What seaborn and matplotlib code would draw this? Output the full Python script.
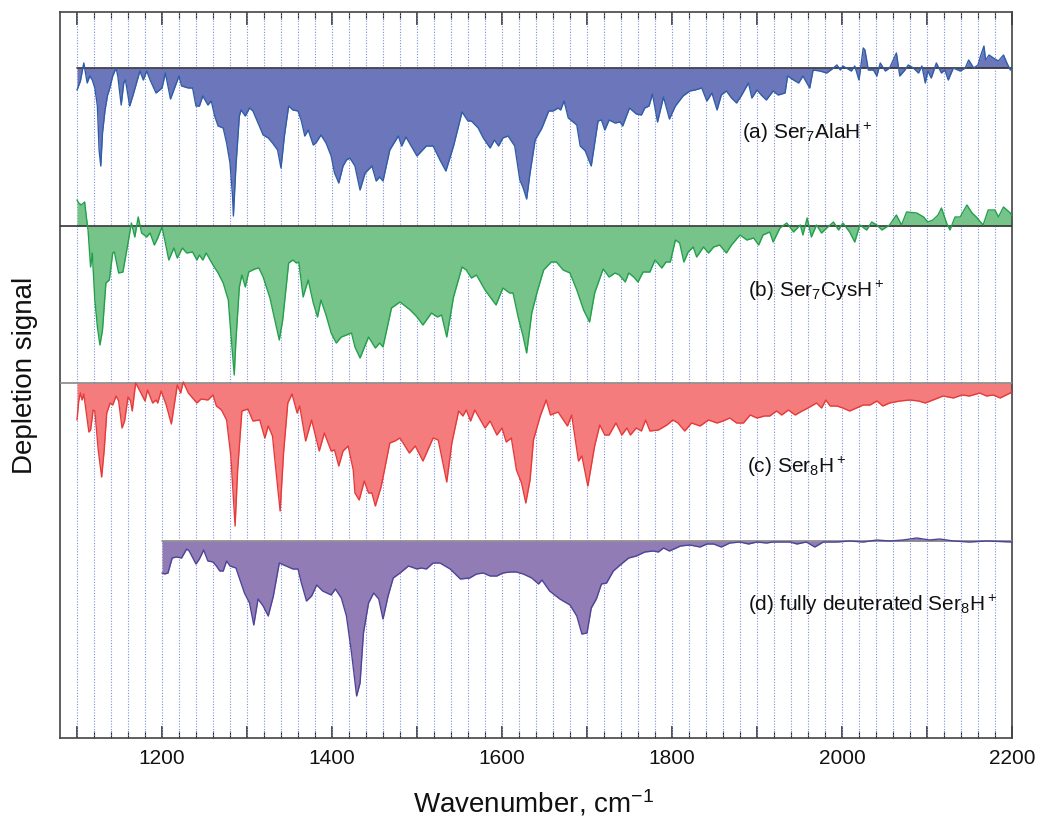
import numpy as np
import pandas as pd
import matplotlib
matplotlib.use("Agg")
import matplotlib.pyplot as plt
import seaborn as sns

# ---------------- data (depletion depth, arbitrary units; positive = downwards) ----------------
wn_a = [1100,1104,1108,1112,1115,1118,1121,1124,1126,1128,1130,1133,1136,1138,1142,1146,1148,1152,1155,1157,
        1162,1166,1170,1174,1178,1182,1186,1193,1200,1204,1210,1220,1223,1231,1236,1240,1244,1248,1254,1258,
        1262,1266,1272,1276,1280,1283,1284,1287,1291,1293,1298,1303,1307,1313,1319,1325,1330,1336,1340,1344,
        1349,1354,1360,1364,1368,1372,1378,1381,1387,1393,1399,1403,1408,1413,1417,1421,1427,1433,1439,1447,
        1452,1456,1460,1468,1478,1482,1487,1500,1511,1519,1527,1534,1543,1553,1560,1564,1572,1578,1586,1591,
        1596,1601,1607,1615,1621,1625,1629,1633,1639,1647,1655,1660,1666,1669,1673,1678,1688,1692,1698,1705,
        1713,1717,1721,1726,1733,1739,1742,1750,1758,1764,1768,1773,1777,1783,1790,1797,1804,1813,1821,1827,
        1835,1841,1847,1853,1858,1864,1870,1876,1882,1890,1894,1900,1905,1911,1919,1925,1933,1936,1943,1949,
        1954,1962,1966,1974,1982,1990,1994,1998,2001,2005,2011,2015,2020,2025,2027,2031,2037,2041,2045,2051,
        2056,2064,2068,2074,2078,2084,2090,2094,2098,2101,2105,2111,2117,2121,2125,2131,2139,2145,2149,2155,
        2160,2163,2167,2169,2173,2178,2184,2190,2194,2198,2200]
dep_a = [22,13,-5,15,8,12,20,38,82,98,65,42,27,22,8,0,8,37,15,12,
         38,27,15,3,12,3,12,25,20,5,31,8,18,20,20,38,38,28,37,33,
         48,58,60,75,95,128,148,98,48,42,48,40,43,55,67,70,75,82,100,68,
         38,42,43,53,68,62,77,75,67,75,88,105,115,98,92,90,98,122,105,98,
         113,109,113,82,68,78,69,88,78,78,92,103,78,44,53,53,60,70,80,72,
         78,70,68,78,112,120,131,105,72,60,43,43,40,42,33,50,57,78,83,98,
         53,52,62,52,55,54,58,40,46,47,40,38,26,54,29,51,38,28,23,22,
         20,33,25,42,27,23,30,35,27,15,30,22,27,32,23,27,25,8,12,15,
         8,20,2,3,5,0,-3,2,-2,0,3,-2,12,-20,-18,2,2,8,-5,3,
         0,-15,8,2,-3,0,5,-2,15,3,10,-5,5,2,12,0,3,0,-8,0,
         -3,-12,-22,-8,-13,-10,-7,-13,-5,2,0]

wn_b = [1100,1102,1105,1109,1111,1113,1116,1118,1121,1124,1127,1130,1134,1138,1142,1144,1149,1154,1160,1164,
        1168,1172,1176,1182,1186,1191,1195,1200,1204,1208,1214,1218,1224,1229,1236,1241,1244,1248,1252,1260,
        1266,1272,1278,1281,1285,1287,1291,1294,1298,1302,1309,1314,1319,1327,1332,1338,1342,1349,1354,1358,
        1361,1366,1372,1378,1383,1387,1393,1399,1405,1411,1417,1423,1427,1433,1443,1451,1456,1460,1470,1480,
        1492,1500,1507,1517,1524,1529,1535,1543,1553,1558,1564,1570,1580,1593,1601,1609,1613,1619,1625,1629,
        1635,1641,1649,1658,1664,1672,1680,1688,1696,1703,1709,1719,1726,1733,1738,1745,1749,1755,1760,1766,
        1774,1780,1788,1793,1798,1804,1809,1814,1819,1825,1829,1837,1843,1849,1856,1864,1870,1880,1888,1896,
        1902,1907,1915,1919,1927,1935,1943,1951,1954,1959,1964,1970,1976,1982,1990,1996,2001,2009,2015,2021,
        2029,2035,2041,2047,2056,2064,2070,2076,2088,2096,2101,2107,2113,2117,2123,2127,2133,2139,2147,2153,
        2158,2166,2172,2180,2184,2190,2198,2200]
dep_b = [-26,-23,-21,-24,-9,4,41,27,74,101,119,104,57,54,27,26,47,46,17,-3,
         11,-9,7,11,7,19,12,1,17,34,22,32,22,27,26,34,29,34,27,39,
         47,57,74,107,149,114,61,49,61,46,43,42,51,72,91,114,94,37,34,37,
         36,71,54,77,91,74,89,107,117,111,109,107,121,132,111,122,117,121,82,76,
         84,91,99,87,91,89,111,71,41,44,52,49,64,79,62,67,67,91,111,127,
         87,67,44,36,36,44,47,64,84,96,67,43,51,47,49,56,47,51,56,46,
         46,34,42,36,36,14,17,36,26,21,31,21,27,21,19,27,19,9,14,12,
         19,9,6,16,2,-3,6,-1,9,-8,11,-1,7,2,-4,4,-3,6,16,-1,
         4,-4,-1,4,-1,-11,-1,-14,-13,-9,-4,-6,-11,-18,-3,4,-9,-9,-21,-13,
         -9,-1,-16,-16,-9,-19,-13,-10]

wn_c = [1100,1102,1104,1106,1108,1111,1114,1116,1119,1121,1125,1129,1132,1135,1139,1142,1146,1149,1153,1156,
        1160,1163,1165,1169,1174,1180,1183,1189,1193,1195,1199,1205,1211,1218,1222,1225,1231,1236,1241,1246,
        1254,1260,1264,1270,1276,1281,1286,1289,1294,1301,1307,1315,1321,1325,1330,1334,1339,1343,1348,1353,
        1359,1362,1369,1376,1385,1391,1399,1403,1408,1413,1419,1425,1427,1432,1438,1443,1447,1451,1458,1468,
        1474,1480,1491,1498,1507,1519,1525,1535,1541,1549,1554,1558,1563,1568,1580,1586,1594,1600,1605,1611,
        1617,1623,1628,1633,1637,1645,1652,1657,1666,1677,1682,1690,1694,1701,1709,1715,1721,1726,1734,1741,
        1747,1751,1758,1764,1769,1774,1784,1794,1801,1807,1815,1823,1833,1843,1853,1860,1868,1876,1884,1892,
        1900,1909,1915,1923,1929,1937,1945,1953,1960,1970,1976,1981,1986,1994,2001,2009,2017,2025,2033,2041,
        2048,2056,2068,2080,2090,2098,2107,2119,2131,2141,2150,2162,2170,2178,2186,2198,2200]
dep_c = [37,18,10,17,11,30,49,47,27,28,67,94,67,30,20,22,13,18,45,38,
         14,18,28,0,8,18,7,20,17,20,8,22,41,2,10,-1,10,15,20,16,
         17,12,23,27,37,73,143,87,28,26,38,37,55,43,53,87,128,70,20,11,
         30,23,58,37,68,50,68,67,83,68,63,87,110,117,98,110,110,123,103,60,
         58,55,70,63,78,55,57,99,60,28,33,27,38,27,45,38,52,45,59,55,
         87,100,120,97,57,33,17,32,29,43,32,78,73,103,63,42,52,52,40,52,
         45,52,45,48,37,48,47,42,37,40,48,40,43,37,40,38,35,40,40,32,
         35,33,33,28,32,27,32,28,25,20,25,17,23,23,25,28,25,22,22,18,
         23,20,18,17,18,20,17,13,15,12,13,10,13,12,15,10,8]

wn_d = [1200,1203,1207,1212,1217,1223,1229,1232,1240,1244,1249,1254,1260,1264,1268,1272,1276,1280,1287,1293,
        1297,1303,1308,1313,1319,1325,1331,1338,1346,1354,1360,1364,1370,1376,1382,1389,1399,1404,1411,1417,
        1423,1429,1433,1437,1443,1449,1455,1460,1466,1472,1480,1490,1500,1505,1511,1519,1527,1539,1551,1562,
        1570,1578,1586,1594,1601,1609,1617,1625,1635,1643,1647,1656,1668,1680,1688,1694,1700,1705,1711,1717,
        1723,1731,1739,1749,1758,1768,1778,1784,1790,1797,1810,1821,1833,1841,1849,1858,1868,1880,1890,1900,
        1911,1919,1929,1939,1947,1958,1968,1978,1994,2009,2025,2041,2056,2072,2088,2103,2115,2131,2150,2170,
        2200]
dep_d = [32,33,32,17,16,17,8,10,23,18,9,20,21,25,30,30,20,25,27,42,
         52,62,84,58,65,75,55,22,25,28,28,42,60,55,44,50,54,48,57,75,
         112,155,142,92,62,52,58,78,55,37,32,25,28,27,28,22,22,28,38,37,
         33,32,35,35,32,31,31,33,37,43,39,50,58,64,75,93,92,67,58,43,
         42,30,24,17,15,11,10,11,7,10,5,4,6,3,3,6,2,1,3,1,
         2,1,1,1,3,1,6,1,1,0,1,-1,0,-1,-3,-1,-2,0,1,0,
         1]

labels = [r"(a) Ser$_7$AlaH$^+$", r"(b) Ser$_7$CysH$^+$", r"(c) Ser$_8$H$^+$",
          r"(d) fully deuterated Ser$_8$H$^+$"]
xlabel_text = r"Wavenumber, cm$^{-1}$"
ylabel_text = "Depletion signal"
tick_values = [1200, 1400, 1600, 1800, 2000, 2200]

# ---------------- styling ----------------
sns.set_style("white")
plt.rcParams["font.family"] = ["Liberation Sans", "DejaVu Sans"]
plt.rcParams["mathtext.default"] = "regular"
plt.rcParams["mathtext.fontset"] = "custom"
plt.rcParams["mathtext.rm"] = "Liberation Sans"
plt.rcParams["text.color"] = "#111111"

offsets = [0, -158, -315, -473]
fills = ["#6b76bb", "#76c48a", "#f47c7c", "#927cb6"]
lines = ["#2f5da8", "#22a04b", "#e63a3a", "#4d4499"]
base_colors = ["#333333", "#333333", "#888888", "#888888"]
base_start = [1100, 1080, 1080, 1200]
label_pos = [(1882, -65), (1889, -223), (1888, -399), (1889, -537)]

fig = plt.figure(figsize=(10.37, 8.23), dpi=100)
ax = fig.add_axes([60/1037, 1-738/823, (1012-60)/1037, (738-12)/823])

# dotted vertical grid
for xv in range(1100, 2200, 20):
    ax.axvline(xv, color="#7f8fdc", lw=0.8, ls=(0, (1, 1.5)), zorder=1)

series = [(wn_a, dep_a), (wn_b, dep_b), (wn_c, dep_c), (wn_d, dep_d)]
for i, (wn, dep) in enumerate(series):
    df = pd.DataFrame({"wn": wn, "y": offsets[i] - np.asarray(dep, dtype=float)})
    ax.fill_between(df["wn"], offsets[i], df["y"], color=fills[i], lw=0, zorder=2)
    ax.plot([base_start[i], 2200], [offsets[i], offsets[i]], color=base_colors[i], lw=1.2, zorder=3)
    sns.lineplot(data=df, x="wn", y="y", ax=ax, color=lines[i], lw=1.0,
                 estimator=None, sort=False, zorder=4)
    ax.text(label_pos[i][0], label_pos[i][1], labels[i], fontsize=15, va="center", ha="left",
            color="#111111", zorder=5)

ax.set_xlim(1080, 2200)
ax.set_ylim(-670, 56)
ax.set_xlabel("")
ax.set_ylabel("")
ax.set_yticks([])

ax.set_xticks(list(range(1100, 2201, 100)))
ax.set_xticklabels([str(v) if v in tick_values else "" for v in range(1100, 2201, 100)])
ax.set_xticks(list(range(1100, 2201, 20)), minor=True)
ax.tick_params(axis="x", which="major", direction="in", length=9, width=1.1, top=True, bottom=True,
               labelsize=15, pad=8, color="#222222", labelcolor="#111111")
ax.tick_params(axis="x", which="minor", direction="in", length=5, width=0.8, top=True, bottom=True,
               color="#222222")
for s in ax.spines.values():
    s.set_visible(True)
    s.set_color("#444444")
    s.set_linewidth(1.2)

fig.text(25/1037, 1-375/823, ylabel_text, rotation=90, fontsize=20, ha="center", va="center",
         color="#111111")
fig.text(533/1037, 1-803/823, xlabel_text, fontsize=20, ha="center", va="center", color="#111111")

fig.savefig("out.png", dpi=100)
